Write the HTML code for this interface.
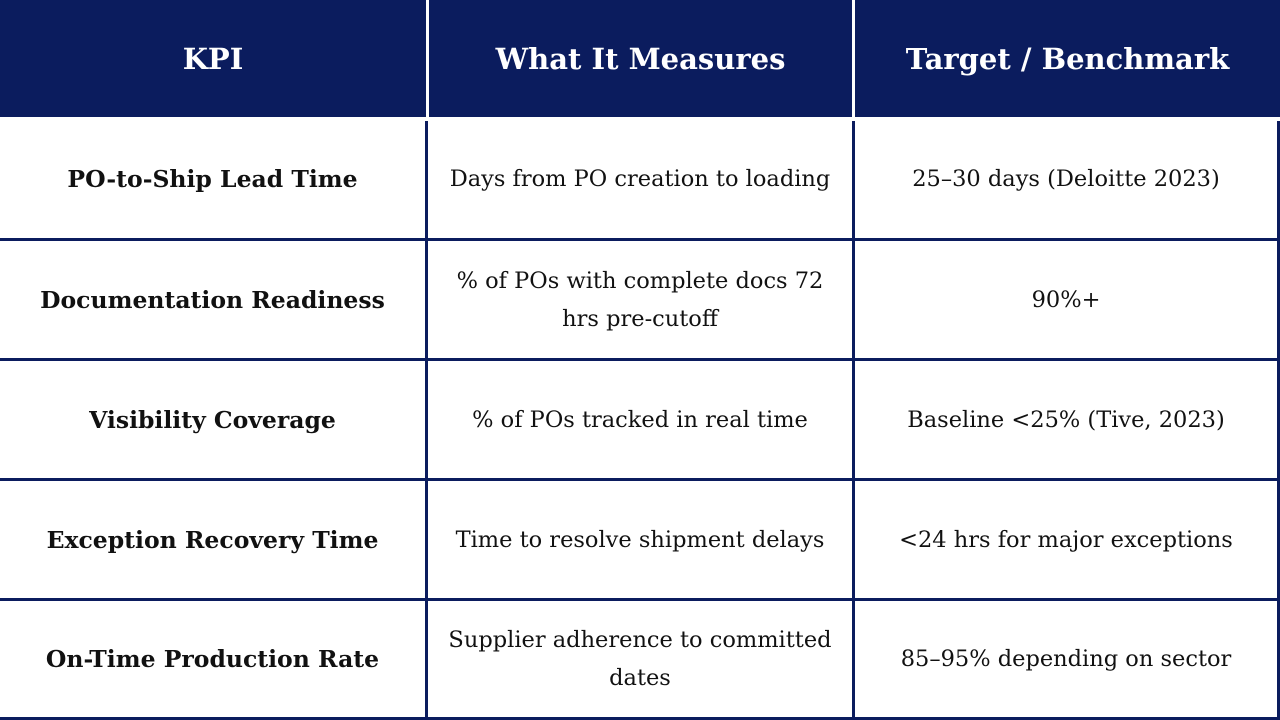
<!DOCTYPE html>
<html><head><meta charset="utf-8"><style>
body{margin:0;width:1280px;height:720px;background:#fff;position:relative;overflow:hidden;font-family:"DejaVu Serif","Liberation Serif",serif;}
.h{position:absolute;top:0;height:117px;background:#0b1c5e;color:#fff;font-weight:bold;font-size:29px;display:flex;align-items:center;justify-content:center;}
.c{position:absolute;display:flex;align-items:center;justify-content:center;text-align:center;font-size:22.5px;color:#111;line-height:38px;}
.b{font-weight:bold;font-size:23.5px;}
.v{position:absolute;background:#0b1c5e;}
</style></head><body>
<div class="h" style="left:0;width:426px">KPI</div>
<div class="h" style="left:429px;width:423px">What It Measures</div>
<div class="h" style="left:855px;width:425px">Target / Benchmark</div>

<div class="v" style="left:425px;top:121px;width:3px;height:599px"></div>
<div class="v" style="left:852px;top:121px;width:3px;height:599px"></div>
<div class="v" style="left:1277px;top:121px;width:3px;height:599px"></div>
<div class="v" style="left:0;top:238px;width:1280px;height:3px"></div>
<div class="v" style="left:0;top:358px;width:1280px;height:3px"></div>
<div class="v" style="left:0;top:478px;width:1280px;height:3px"></div>
<div class="v" style="left:0;top:598px;width:1280px;height:3px"></div>
<div class="v" style="left:0;top:717px;width:1280px;height:3px"></div>

<div class="c b" style="left:0;width:425px;top:120px;height:118px">PO-to-Ship Lead Time</div>
<div class="c" style="left:428px;width:424px;top:120px;height:118px">Days from PO creation to loading</div>
<div class="c" style="left:855px;width:422px;top:120px;height:118px">25–30 days (Deloitte 2023)</div>

<div class="c b" style="left:0;width:425px;top:241px;height:117px">Documentation Readiness</div>
<div class="c" style="left:438px;width:404px;top:241px;height:117px">% of POs with complete docs 72<br>hrs pre-cutoff</div>
<div class="c" style="left:855px;width:422px;top:241px;height:117px">90%+</div>

<div class="c b" style="left:0;width:425px;top:361px;height:117px">Visibility Coverage</div>
<div class="c" style="left:428px;width:424px;top:361px;height:117px">% of POs tracked in real time</div>
<div class="c" style="left:855px;width:422px;top:361px;height:117px">Baseline &lt;25% (Tive, 2023)</div>

<div class="c b" style="left:0;width:425px;top:481px;height:117px">Exception Recovery Time</div>
<div class="c" style="left:428px;width:424px;top:481px;height:117px">Time to resolve shipment delays</div>
<div class="c" style="left:855px;width:422px;top:481px;height:117px">&lt;24 hrs for major exceptions</div>

<div class="c b" style="left:0;width:425px;top:601px;height:116px">On-Time Production Rate</div>
<div class="c" style="left:438px;width:404px;top:601px;height:116px">Supplier adherence to committed<br>dates</div>
<div class="c" style="left:855px;width:422px;top:601px;height:116px">85–95% depending on sector</div>
</body></html>
